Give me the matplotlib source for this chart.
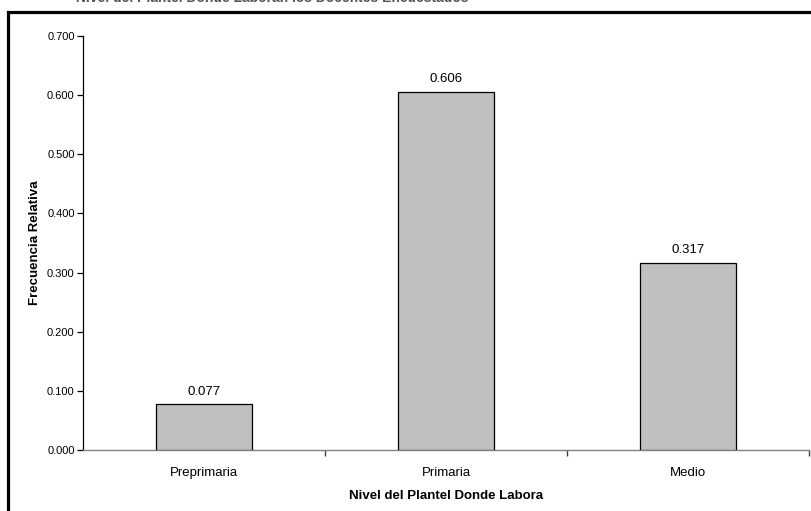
import matplotlib
matplotlib.use("Agg")
import matplotlib.pyplot as plt
from matplotlib.patches import Rectangle
from matplotlib.ticker import FixedLocator, FormatStrFormatter

categories = ["Preprimaria", "Primaria", "Medio"]
values = [0.077, 0.606, 0.317]
value_labels = ["0.077", "0.606", "0.317"]
yticks = [0.0, 0.1, 0.2, 0.3, 0.4, 0.5, 0.6, 0.7]
title = "Nivel del Plantel Donde Laboran los Docentes Encuestados"
xlabel = "Nivel del Plantel Donde Labora"
ylabel = "Frecuencia Relativa"

plt.rcParams['font.family'] = ['Liberation Sans', 'DejaVu Sans']

W, H = 811, 511
fig = plt.figure(figsize=(W / 100, H / 100), dpi=100)
ax = fig.add_axes([83 / W, 1 - 450 / H, (809 - 83) / W, (450 - 36) / H])

x = list(range(len(categories)))
ax.bar(x, values, width=0.4, color="#C0C0C0", edgecolor="black", linewidth=0.9, zorder=3)
for xi, v, lab in zip(x, values, value_labels):
    ax.annotate(lab, (xi, v), xytext=(0, 5), textcoords="offset points",
                ha="center", va="bottom", fontsize=9.5)

ax.set_xlim(-0.5, 2.5)
ax.set_ylim(0, 0.7)
ax.set_yticks(yticks)
ax.yaxis.set_major_formatter(FormatStrFormatter("%.3f"))
ax.tick_params(axis="y", labelsize=8, length=4, width=0.9, direction="out", pad=2)
ax.set_xticks(x)
ax.set_xticklabels(categories, fontsize=9.5)
ax.tick_params(axis="x", which="major", length=0, pad=12)
ax.xaxis.set_minor_locator(FixedLocator([0.5, 1.5, 2.5]))
ax.tick_params(axis="x", which="minor", length=4, width=1.0, color="#404040", direction="out")

for s in ["top", "right"]:
    ax.spines[s].set_visible(False)
ax.spines["left"].set_color("black")
ax.spines["left"].set_linewidth(0.9)
ax.spines["bottom"].set_color("#808080")
ax.spines["bottom"].set_linewidth(1.0)

ax.set_xlabel(xlabel, fontsize=9.5, fontweight="bold", labelpad=8)
ax.set_ylabel(ylabel, fontsize=9.5, fontweight="bold")
ax.yaxis.set_label_coords((41 - 83) / (809 - 83), 0.5)

# outer chart frame (partially cut off)
fig.patches.append(Rectangle((7.5 / W, -0.1), 1.2, 1 - 12.5 / H + 0.1,
                             transform=fig.transFigure, fill=False,
                             edgecolor="black", linewidth=2.3, clip_on=False))
# title, mostly cut off at top
fig.text(272 / W, 1 - 2 / H, title, ha="center", va="baseline",
         fontsize=10, fontweight="bold", color="#555555")

fig.savefig("out.png", dpi=100)
